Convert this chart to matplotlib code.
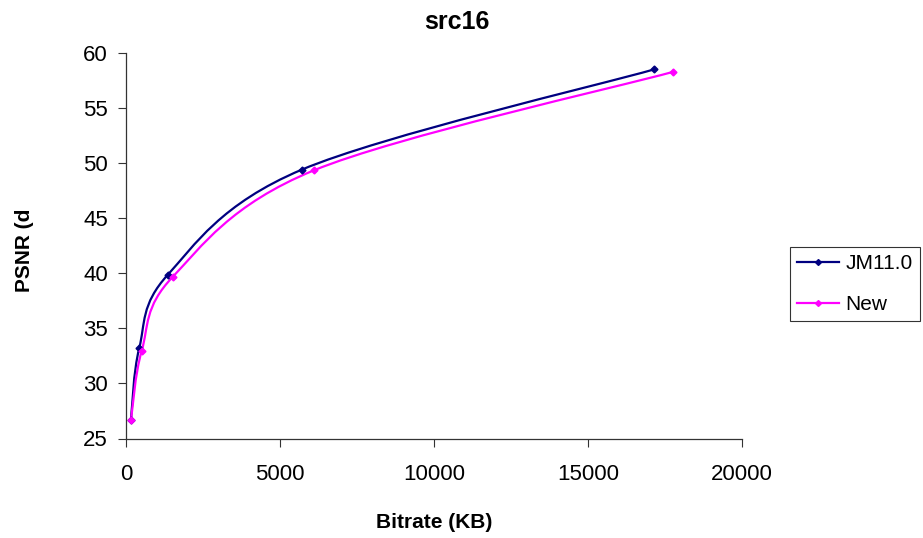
import matplotlib
matplotlib.use("Agg")
import matplotlib.pyplot as plt
import numpy as np
from matplotlib.path import Path
from matplotlib.patches import PathPatch
from matplotlib.lines import Line2D

plt.rcParams['font.family'] = ['Liberation Sans', 'DejaVu Sans']

# Rate-distortion points
jm_bitrate = [160, 430, 1355, 5710, 17150]
jm_psnr = [26.7, 33.2, 39.84, 49.38, 58.47]
new_bitrate = [160, 510, 1515, 6105, 17770]
new_psnr = [26.65, 32.95, 39.65, 49.32, 58.25]

series_names = ["JM11.0", "New"]
series_colors = ["#000080", "#FF00FF"]

x_ticks = [0, 5000, 10000, 15000, 20000]
y_ticks = [25, 30, 35, 40, 45, 50, 55, 60]


def smooth_path(xs, ys):
    """Cardinal-spline (Catmull-Rom) Bezier path through the points."""
    pts = np.column_stack([xs, ys]).astype(float)
    n = len(pts)
    verts = [pts[0]]
    codes = [Path.MOVETO]
    for i in range(n - 1):
        p0 = pts[i - 1] if i > 0 else pts[i]
        p1 = pts[i]
        p2 = pts[i + 1]
        p3 = pts[i + 2] if i + 2 < n else pts[i + 1]
        c1 = p1 + (p2 - p0) / 6.0
        c2 = p2 - (p3 - p1) / 6.0
        verts += [c1, c2, p2]
        codes += [Path.CURVE4] * 3
    return Path(verts, codes)


W, H = 923, 538
fig = plt.figure(figsize=(W / 100, H / 100), dpi=100)
ax = fig.add_axes([126 / W, 1 - 438.5 / H, 616 / W, 386 / H])

for xs, ys, col in zip([jm_bitrate, new_bitrate], [jm_psnr, new_psnr], series_colors):
    patch = PathPatch(smooth_path(xs, ys), facecolor='none', edgecolor=col,
                      lw=1.6, capstyle='round', joinstyle='round')
    ax.add_patch(patch)
    ax.plot(xs, ys, ls='none', marker='D', ms=3.5, color=col, mec=col)

ax.set_xlim(0, 20000)
ax.set_ylim(25, 60)
ax.set_xticks(x_ticks)
ax.set_yticks(y_ticks)
ax.tick_params(direction='out', length=6, width=0.8, labelsize=16, color='#333333')
ax.tick_params(axis='y', pad=7)
ax.tick_params(axis='x', pad=12)
for s in ['top', 'right']:
    ax.spines[s].set_visible(False)
for s in ['left', 'bottom']:
    ax.spines[s].set_color('#333333')
    ax.spines[s].set_linewidth(0.9)

fig.text(457 / W, 1 - 22 / H, "src16", fontsize=18, fontweight='bold',
         ha='center', va='center')
fig.text(434 / W, 1 - 522 / H, "Bitrate (KB)", fontsize=15, fontweight='bold',
         ha='center', va='center')
fig.text(25 / W, 1 - 250 / H, "PSNR (d", fontsize=15, fontweight='bold',
         ha='center', va='center', rotation=90)

handles = [Line2D([0], [0], color=c, lw=1.6, marker='D', ms=3, mec=c) for c in series_colors]
leg = fig.legend(handles, series_names, loc='center left',
                 bbox_to_anchor=(790 / W, 1 - 284 / H), fontsize=15,
                 frameon=True, fancybox=False, edgecolor='black',
                 handlelength=2.0, handletextpad=0.3, labelspacing=1.05,
                 borderpad=0.35, borderaxespad=0)
leg.get_frame().set_linewidth(0.8)

fig.savefig("out.png", dpi=100)
